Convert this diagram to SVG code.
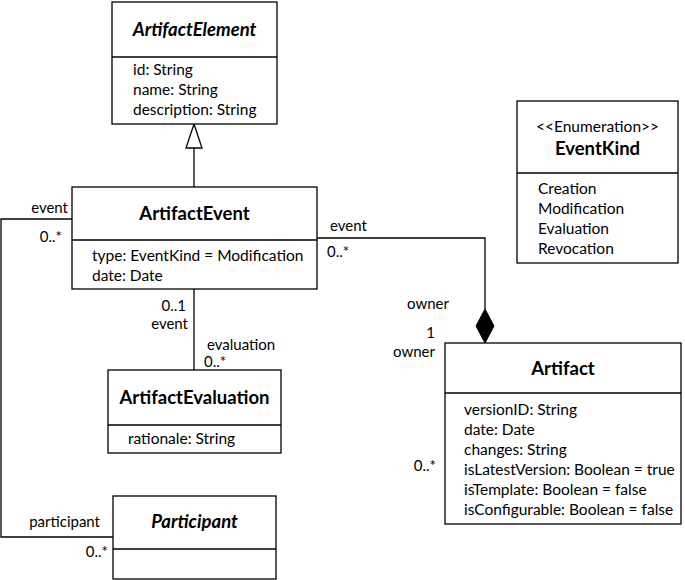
<svg xmlns="http://www.w3.org/2000/svg" width="685" height="580" viewBox="0 0 685 580">
<style>
text{font-family:Lato,"Liberation Sans",sans-serif;fill:#000;}
.t{font-size:18.5px;font-weight:bold;text-anchor:middle;}
.ti{font-size:18.5px;font-weight:bold;font-style:italic;text-anchor:middle;}
.a{font-size:15.5px;}
.l{font-size:15px;}
.e{text-anchor:end;}
.box{fill:#fff;stroke:#000;stroke-width:1.3;}
.div{stroke:#000;stroke-width:1.3;}
.c{fill:none;stroke:#000;stroke-width:1.3;}
</style>
<rect width="685" height="580" fill="#fff"/>
<g id="connectors">
<line class="c" x1="194" y1="148" x2="194" y2="187"/>
<polygon points="194,124 202,148 186,148" fill="#fff" stroke="#000" stroke-width="1.3"/>
<polyline class="c" points="317,238 485,238 485,309"/>
<polygon points="485,309 494,326 485,343 476,326" fill="#000" stroke="#000" stroke-width="1"/>
<line class="c" x1="194" y1="289" x2="194" y2="370"/>
<polyline class="c" points="72,219 1,219 1,537 113,537"/>
<text class="l e" x="68" y="213">event</text>
<text class="l e" x="62" y="242">0..*</text>
<text class="l" x="330" y="231">event</text>
<text class="l" x="327" y="257">0..*</text>
<text class="l" x="407" y="309">owner</text>
<text class="l e" x="435" y="338">1</text>
<text class="l e" x="435" y="357">owner</text>
<text class="l e" x="436" y="471">0..*</text>
<text class="l e" x="186" y="311">0..1</text>
<text class="l e" x="188" y="329">event</text>
<text class="l" x="207" y="350">evaluation</text>
<text class="l" x="204" y="367">0..*</text>
<text class="l e" x="100" y="527">participant</text>
<text class="l e" x="108" y="557">0..*</text>
</g>
<g id="ArtifactElement">
<rect class="box" x="112" y="2" width="165" height="122"/>
<line class="div" x1="112" y1="57" x2="277" y2="57"/>
<text class="ti" x="194.5" y="36">ArtifactElement</text>
<text class="a" x="133" y="75">id: String</text>
<text class="a" x="133" y="95">name: String</text>
<text class="a" x="133" y="115">description: String</text>
</g>
<g id="ArtifactEvent">
<rect class="box" x="72" y="187" width="245" height="102"/>
<line class="div" x1="72" y1="240" x2="317" y2="240"/>
<text class="t" x="194.5" y="220">ArtifactEvent</text>
<text class="a" x="92" y="261">type: EventKind = Modification</text>
<text class="a" x="92" y="281">date: Date</text>
</g>
<g id="ArtifactEvaluation">
<rect class="box" x="108" y="370" width="173" height="83"/>
<line class="div" x1="108" y1="425" x2="281" y2="425"/>
<text class="t" x="194.5" y="404">ArtifactEvaluation</text>
<text class="a" x="128" y="444">rationale: String</text>
</g>
<g id="Participant">
<rect class="box" x="113" y="496" width="163" height="83"/>
<line class="div" x1="113" y1="549" x2="276" y2="549"/>
<text class="ti" x="194.5" y="528">Participant</text>
</g>
<g id="EventKind">
<rect class="box" x="517" y="101" width="161" height="162"/>
<line class="div" x1="517" y1="173" x2="678" y2="173"/>
<text class="a" x="597.5" y="132" text-anchor="middle">&lt;&lt;Enumeration&gt;&gt;</text>
<text class="t" x="597.5" y="155">EventKind</text>
<text class="a" x="538" y="194">Creation</text>
<text class="a" x="538" y="214">Modification</text>
<text class="a" x="538" y="234">Evaluation</text>
<text class="a" x="538" y="254">Revocation</text>
</g>
<g id="Artifact">
<rect class="box" x="445" y="343" width="236" height="181"/>
<line class="div" x1="445" y1="393" x2="681" y2="393"/>
<text class="t" x="563" y="375">Artifact</text>
<text class="a" x="464" y="415">versionID: String</text>
<text class="a" x="464" y="435">date: Date</text>
<text class="a" x="464" y="455">changes: String</text>
<text class="a" x="464" y="475">isLatestVersion: Boolean = true</text>
<text class="a" x="464" y="495">isTemplate: Boolean = false</text>
<text class="a" x="464" y="515">isConfigurable: Boolean = false</text>
</g>
</svg>
